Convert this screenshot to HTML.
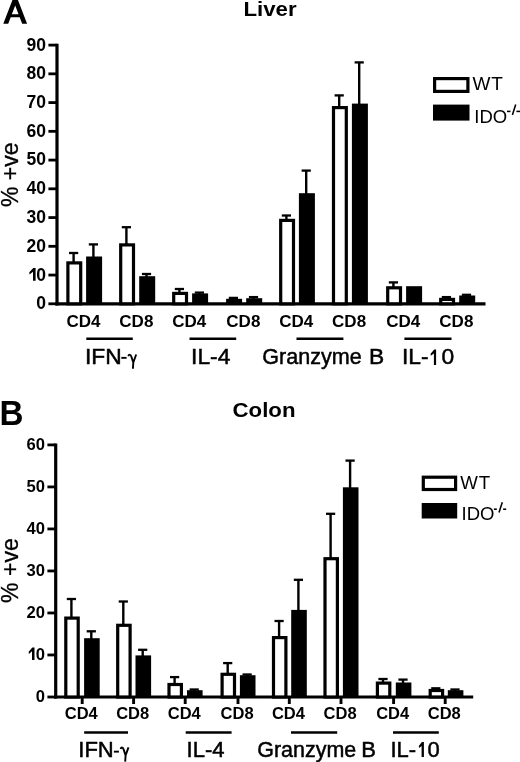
<!DOCTYPE html>
<html><head><meta charset="utf-8"><style>
html,body{margin:0;padding:0;background:#fff;}
body{width:520px;height:762px;overflow:hidden;position:relative;}
svg{position:absolute;left:0;top:0;will-change:transform;}
text{font-family:"Liberation Sans", sans-serif;fill:#000;}
.tl{font-weight:bold;font-size:17.5px;}
.tlb{font-weight:bold;font-size:16.6px;}
.cd{font-weight:bold;font-size:17px;}
.cdb{font-weight:bold;font-size:16.5px;}
.gr{font-size:22.8px;stroke:#000;stroke-width:0.5px;}
.grb{font-size:22px;stroke:#000;stroke-width:0.5px;}
.yl{font-size:23px;stroke:#000;stroke-width:0.3px;}
.pl{font-weight:bold;font-size:36px;}
.plb{font-weight:bold;font-size:35px;}
.tt{font-weight:bold;font-size:20.6px;}
.lgA{font-size:18.5px;}
.lgAw{font-size:19px;letter-spacing:0.6px;}
.lgAs{font-size:15.5px;}
.lgB{font-size:18.5px;}
.lgBw{font-size:18.7px;letter-spacing:0.7px;}
.lgBs{font-size:14px;}
</style></head><body>
<svg width="520" height="762" viewBox="0 0 520 762">
<line x1="57.0" y1="43.70" x2="57.0" y2="305.40" stroke="#000" stroke-width="3.2"/>
<line x1="48.4" y1="303.80" x2="57.0" y2="303.80" stroke="#000" stroke-width="2.8"/>
<text x="46" y="309.20" text-anchor="end" class="tl">0</text>
<line x1="48.4" y1="275.06" x2="57.0" y2="275.06" stroke="#000" stroke-width="2.8"/>
<text x="46" y="281.36" text-anchor="end" class="tl">0</text>
<path fill="#000" d="M33.30,268.00 L35.60,268.00 L35.60,280.70 L33.00,280.70 L33.00,271.81 L29.50,274.60 L29.30,272.19 Z"/>
<line x1="48.4" y1="246.31" x2="57.0" y2="246.31" stroke="#000" stroke-width="2.8"/>
<text x="46" y="251.71" text-anchor="end" class="tl">20</text>
<line x1="48.4" y1="217.57" x2="57.0" y2="217.57" stroke="#000" stroke-width="2.8"/>
<text x="46" y="222.97" text-anchor="end" class="tl">30</text>
<line x1="48.4" y1="188.82" x2="57.0" y2="188.82" stroke="#000" stroke-width="2.8"/>
<text x="46" y="194.22" text-anchor="end" class="tl">40</text>
<line x1="48.4" y1="160.08" x2="57.0" y2="160.08" stroke="#000" stroke-width="2.8"/>
<text x="46" y="165.48" text-anchor="end" class="tl">50</text>
<line x1="48.4" y1="131.33" x2="57.0" y2="131.33" stroke="#000" stroke-width="2.8"/>
<text x="46" y="136.73" text-anchor="end" class="tl">60</text>
<line x1="48.4" y1="102.59" x2="57.0" y2="102.59" stroke="#000" stroke-width="2.8"/>
<text x="46" y="107.99" text-anchor="end" class="tl">70</text>
<line x1="48.4" y1="73.84" x2="57.0" y2="73.84" stroke="#000" stroke-width="2.8"/>
<text x="46" y="79.24" text-anchor="end" class="tl">80</text>
<line x1="48.4" y1="45.10" x2="57.0" y2="45.10" stroke="#000" stroke-width="2.8"/>
<text x="46" y="50.50" text-anchor="end" class="tl">90</text>
<line x1="55.40" y1="303.8" x2="485.5" y2="303.8" stroke="#000" stroke-width="3.2"/>
<line x1="73.60" y1="253.00" x2="73.60" y2="262.30" stroke="#000" stroke-width="2.4"/>
<line x1="69.00" y1="253.00" x2="78.20" y2="253.00" stroke="#000" stroke-width="2.3"/>
<rect x="67.90" y="262.90" width="12.80" height="40.90" fill="#fff" stroke="#000" stroke-width="3.2"/>
<line x1="93.40" y1="244.40" x2="93.40" y2="257.50" stroke="#000" stroke-width="2.4"/>
<line x1="88.80" y1="244.40" x2="98.00" y2="244.40" stroke="#000" stroke-width="2.3"/>
<rect x="86.10" y="256.50" width="16.0" height="47.30" fill="#000"/>
<line x1="126.40" y1="227.20" x2="126.40" y2="244.30" stroke="#000" stroke-width="2.4"/>
<line x1="121.80" y1="227.20" x2="131.00" y2="227.20" stroke="#000" stroke-width="2.3"/>
<rect x="120.70" y="244.90" width="12.80" height="58.90" fill="#fff" stroke="#000" stroke-width="3.2"/>
<line x1="146.50" y1="274.00" x2="146.50" y2="277.20" stroke="#000" stroke-width="2.4"/>
<line x1="141.90" y1="274.00" x2="151.10" y2="274.00" stroke="#000" stroke-width="2.3"/>
<rect x="139.20" y="276.20" width="16.0" height="27.60" fill="#000"/>
<line x1="179.40" y1="289.00" x2="179.40" y2="292.80" stroke="#000" stroke-width="2.4"/>
<line x1="174.80" y1="289.00" x2="184.00" y2="289.00" stroke="#000" stroke-width="2.3"/>
<rect x="173.70" y="293.40" width="12.80" height="10.40" fill="#fff" stroke="#000" stroke-width="3.2"/>
<line x1="199.40" y1="292.60" x2="199.40" y2="294.40" stroke="#000" stroke-width="2.4"/>
<line x1="194.80" y1="292.60" x2="204.00" y2="292.60" stroke="#000" stroke-width="2.3"/>
<rect x="192.10" y="293.40" width="16.0" height="10.40" fill="#000"/>
<line x1="233.40" y1="297.90" x2="233.40" y2="299.80" stroke="#000" stroke-width="2.4"/>
<line x1="228.80" y1="297.90" x2="238.00" y2="297.90" stroke="#000" stroke-width="2.3"/>
<rect x="226.10" y="298.80" width="16.0" height="5.00" fill="#000"/>
<line x1="253.50" y1="297.10" x2="253.50" y2="299.20" stroke="#000" stroke-width="2.4"/>
<line x1="248.90" y1="297.10" x2="258.10" y2="297.10" stroke="#000" stroke-width="2.3"/>
<rect x="246.20" y="298.20" width="16.0" height="5.60" fill="#000"/>
<line x1="286.40" y1="215.50" x2="286.40" y2="219.80" stroke="#000" stroke-width="2.4"/>
<line x1="281.80" y1="215.50" x2="291.00" y2="215.50" stroke="#000" stroke-width="2.3"/>
<rect x="280.70" y="220.40" width="12.80" height="83.40" fill="#fff" stroke="#000" stroke-width="3.2"/>
<line x1="306.20" y1="170.60" x2="306.20" y2="194.20" stroke="#000" stroke-width="2.4"/>
<line x1="301.60" y1="170.60" x2="310.80" y2="170.60" stroke="#000" stroke-width="2.3"/>
<rect x="298.90" y="193.20" width="16.0" height="110.60" fill="#000"/>
<line x1="339.20" y1="95.40" x2="339.20" y2="107.00" stroke="#000" stroke-width="2.4"/>
<line x1="334.60" y1="95.40" x2="343.80" y2="95.40" stroke="#000" stroke-width="2.3"/>
<rect x="333.50" y="107.60" width="12.80" height="196.20" fill="#fff" stroke="#000" stroke-width="3.2"/>
<line x1="359.20" y1="62.40" x2="359.20" y2="104.60" stroke="#000" stroke-width="2.4"/>
<line x1="354.60" y1="62.40" x2="363.80" y2="62.40" stroke="#000" stroke-width="2.3"/>
<rect x="351.90" y="103.60" width="16.0" height="200.20" fill="#000"/>
<line x1="393.40" y1="282.40" x2="393.40" y2="287.20" stroke="#000" stroke-width="2.4"/>
<line x1="388.80" y1="282.40" x2="398.00" y2="282.40" stroke="#000" stroke-width="2.3"/>
<rect x="387.70" y="287.80" width="12.80" height="16.00" fill="#fff" stroke="#000" stroke-width="3.2"/>
<rect x="406.10" y="286.20" width="16.0" height="17.60" fill="#000"/>
<line x1="446.40" y1="297.10" x2="446.40" y2="298.80" stroke="#000" stroke-width="2.4"/>
<line x1="441.80" y1="297.10" x2="451.00" y2="297.10" stroke="#000" stroke-width="2.3"/>
<rect x="440.70" y="299.40" width="12.80" height="4.40" fill="#fff" stroke="#000" stroke-width="3.2"/>
<line x1="466.50" y1="294.80" x2="466.50" y2="296.50" stroke="#000" stroke-width="2.4"/>
<line x1="461.90" y1="294.80" x2="471.10" y2="294.80" stroke="#000" stroke-width="2.3"/>
<rect x="459.20" y="295.50" width="16.0" height="8.30" fill="#000"/>
<text x="83.39999999999999" y="326.5" text-anchor="middle" class="cd">CD4</text>
<text x="136.34999999999997" y="326.5" text-anchor="middle" class="cd">CD8</text>
<text x="189.29999999999998" y="326.5" text-anchor="middle" class="cd">CD4</text>
<text x="243.34999999999997" y="326.5" text-anchor="middle" class="cd">CD8</text>
<text x="296.2" y="326.5" text-anchor="middle" class="cd">CD4</text>
<text x="349.09999999999997" y="326.5" text-anchor="middle" class="cd">CD8</text>
<text x="403.3" y="326.5" text-anchor="middle" class="cd">CD4</text>
<text x="456.34999999999997" y="326.5" text-anchor="middle" class="cd">CD8</text>
<line x1="86.3" y1="338.7" x2="132.8" y2="338.7" stroke="#000" stroke-width="2.4"/>
<text x="85.0" y="364.3" class="gr">IFN</text>
<rect x="121.3" y="356.9" width="5.30" height="1.90" fill="#000"/>
<path transform="translate(128.0,354.3)" d="M0.3,1.9 C0.8,-0.1 2.5,-0.3 3.3,2.2 L5.3,8.2 M8.2,0.2 L5.3,8.2 L4.9,14.4" fill="none" stroke="#000" stroke-width="1.9" stroke-linejoin="round"/>
<line x1="189.5" y1="338.7" x2="236.2" y2="338.7" stroke="#000" stroke-width="2.4"/>
<text x="210.7" y="364.3" text-anchor="middle" class="gr">IL-4</text>
<line x1="296.5" y1="338.7" x2="343.4" y2="338.7" stroke="#000" stroke-width="2.4"/>
<text transform="translate(262.3,364.3) scale(0.945,1)" class="gr">Granzyme</text>
<text x="368.9" y="364.3" class="gr">B</text>
<line x1="404.4" y1="338.7" x2="451.5" y2="338.7" stroke="#000" stroke-width="2.4"/>
<text x="402.0" y="364.3" class="gr">IL-</text>
<text x="441.5" y="364.3" class="gr">0</text>
<path fill="#000" d="M434.20,349.60 L436.10,349.60 L436.10,364.90 L433.90,364.90 L433.90,353.58 L430.80,355.72 L430.60,353.73 Z"/>
<text transform="translate(17.6,174.7) rotate(-90)" text-anchor="middle" class="yl">% +ve</text>
<path fill-rule="evenodd" fill="#000" d="M3.3,23.7 L13.03,-1.5 L17.37,-1.5 L27.1,23.7 L22.2,23.7 L19.69,17.2 L10.71,17.2 L8.2,23.7 Z M11.83,14.3 L15.2,5.57 L18.57,14.3 Z"/>
<text transform="translate(243.5,15.8) scale(1.08,1)" class="tt">Liver</text>
<rect x="434.6" y="78.6" width="33.3" height="12.8" fill="#fff" stroke="#000" stroke-width="3.2"/>
<rect x="433" y="104.6" width="36.5" height="16" fill="#000"/>
<text x="472.6" y="90.4" class="lgAw">WT</text>
<text x="474.3" y="122.9" class="lgA">IDO</text>
<line x1="507.0" y1="111.4" x2="510.5" y2="111.4" stroke="#000" stroke-width="1.55"/>
<line x1="512.4" y1="114.9" x2="515.7" y2="104.4" stroke="#000" stroke-width="1.55"/>
<line x1="516.4" y1="111.4" x2="521" y2="111.4" stroke="#000" stroke-width="1.55"/>
<line x1="55.7" y1="443.50" x2="55.7" y2="698.60" stroke="#000" stroke-width="3.2"/>
<line x1="47.4" y1="697.00" x2="55.7" y2="697.00" stroke="#000" stroke-width="2.8"/>
<text x="45.0" y="702.10" text-anchor="end" class="tlb">0</text>
<line x1="47.4" y1="654.98" x2="55.7" y2="654.98" stroke="#000" stroke-width="2.8"/>
<text x="45.0" y="660.08" text-anchor="end" class="tlb">0</text>
<path fill="#000" d="M32.30,647.60 L34.50,647.60 L34.50,659.90 L32.00,659.90 L32.00,651.29 L28.90,654.00 L28.70,651.66 Z"/>
<line x1="47.4" y1="612.97" x2="55.7" y2="612.97" stroke="#000" stroke-width="2.8"/>
<text x="45.0" y="618.07" text-anchor="end" class="tlb">20</text>
<line x1="47.4" y1="570.95" x2="55.7" y2="570.95" stroke="#000" stroke-width="2.8"/>
<text x="45.0" y="576.05" text-anchor="end" class="tlb">30</text>
<line x1="47.4" y1="528.93" x2="55.7" y2="528.93" stroke="#000" stroke-width="2.8"/>
<text x="45.0" y="534.03" text-anchor="end" class="tlb">40</text>
<line x1="47.4" y1="486.92" x2="55.7" y2="486.92" stroke="#000" stroke-width="2.8"/>
<text x="45.0" y="492.02" text-anchor="end" class="tlb">50</text>
<line x1="47.4" y1="444.90" x2="55.7" y2="444.90" stroke="#000" stroke-width="2.8"/>
<text x="45.0" y="450.00" text-anchor="end" class="tlb">60</text>
<line x1="54.10" y1="697.0" x2="473.2" y2="697.0" stroke="#000" stroke-width="3.2"/>
<line x1="71.40" y1="599.00" x2="71.40" y2="617.50" stroke="#000" stroke-width="2.4"/>
<line x1="66.80" y1="599.00" x2="76.00" y2="599.00" stroke="#000" stroke-width="2.3"/>
<rect x="65.80" y="618.10" width="12.40" height="78.90" fill="#fff" stroke="#000" stroke-width="3.2"/>
<line x1="91.30" y1="631.30" x2="91.30" y2="639.20" stroke="#000" stroke-width="2.4"/>
<line x1="86.70" y1="631.30" x2="95.90" y2="631.30" stroke="#000" stroke-width="2.3"/>
<rect x="84.10" y="638.20" width="15.6" height="58.80" fill="#000"/>
<line x1="123.30" y1="601.50" x2="123.30" y2="624.70" stroke="#000" stroke-width="2.4"/>
<line x1="118.70" y1="601.50" x2="127.90" y2="601.50" stroke="#000" stroke-width="2.3"/>
<rect x="117.70" y="625.30" width="12.40" height="71.70" fill="#fff" stroke="#000" stroke-width="3.2"/>
<line x1="142.70" y1="649.80" x2="142.70" y2="656.40" stroke="#000" stroke-width="2.4"/>
<line x1="138.10" y1="649.80" x2="147.30" y2="649.80" stroke="#000" stroke-width="2.3"/>
<rect x="135.50" y="655.40" width="15.6" height="41.60" fill="#000"/>
<line x1="174.60" y1="677.10" x2="174.60" y2="683.90" stroke="#000" stroke-width="2.4"/>
<line x1="170.00" y1="677.10" x2="179.20" y2="677.10" stroke="#000" stroke-width="2.3"/>
<rect x="169.00" y="684.50" width="12.40" height="12.50" fill="#fff" stroke="#000" stroke-width="3.2"/>
<line x1="194.20" y1="689.50" x2="194.20" y2="691.20" stroke="#000" stroke-width="2.4"/>
<line x1="189.60" y1="689.50" x2="198.80" y2="689.50" stroke="#000" stroke-width="2.3"/>
<rect x="187.00" y="690.20" width="15.6" height="6.80" fill="#000"/>
<line x1="227.70" y1="663.10" x2="227.70" y2="673.70" stroke="#000" stroke-width="2.4"/>
<line x1="223.10" y1="663.10" x2="232.30" y2="663.10" stroke="#000" stroke-width="2.3"/>
<rect x="222.10" y="674.30" width="12.40" height="22.70" fill="#fff" stroke="#000" stroke-width="3.2"/>
<line x1="247.10" y1="674.50" x2="247.10" y2="676.20" stroke="#000" stroke-width="2.4"/>
<line x1="242.50" y1="674.50" x2="251.70" y2="674.50" stroke="#000" stroke-width="2.3"/>
<rect x="239.90" y="675.20" width="15.6" height="21.80" fill="#000"/>
<line x1="279.10" y1="621.00" x2="279.10" y2="637.00" stroke="#000" stroke-width="2.4"/>
<line x1="274.50" y1="621.00" x2="283.70" y2="621.00" stroke="#000" stroke-width="2.3"/>
<rect x="273.50" y="637.60" width="12.40" height="59.40" fill="#fff" stroke="#000" stroke-width="3.2"/>
<line x1="298.40" y1="579.80" x2="298.40" y2="610.90" stroke="#000" stroke-width="2.4"/>
<line x1="293.80" y1="579.80" x2="303.00" y2="579.80" stroke="#000" stroke-width="2.3"/>
<rect x="291.20" y="609.90" width="15.6" height="87.10" fill="#000"/>
<line x1="330.60" y1="513.80" x2="330.60" y2="558.10" stroke="#000" stroke-width="2.4"/>
<line x1="326.00" y1="513.80" x2="335.20" y2="513.80" stroke="#000" stroke-width="2.3"/>
<rect x="325.00" y="558.70" width="12.40" height="138.30" fill="#fff" stroke="#000" stroke-width="3.2"/>
<line x1="350.10" y1="460.60" x2="350.10" y2="488.30" stroke="#000" stroke-width="2.4"/>
<line x1="345.50" y1="460.60" x2="354.70" y2="460.60" stroke="#000" stroke-width="2.3"/>
<rect x="342.90" y="487.30" width="15.6" height="209.70" fill="#000"/>
<line x1="383.00" y1="679.00" x2="383.00" y2="682.50" stroke="#000" stroke-width="2.4"/>
<line x1="378.40" y1="679.00" x2="387.60" y2="679.00" stroke="#000" stroke-width="2.3"/>
<rect x="377.40" y="683.10" width="12.40" height="13.90" fill="#fff" stroke="#000" stroke-width="3.2"/>
<line x1="403.00" y1="679.60" x2="403.00" y2="683.50" stroke="#000" stroke-width="2.4"/>
<line x1="398.40" y1="679.60" x2="407.60" y2="679.60" stroke="#000" stroke-width="2.3"/>
<rect x="395.80" y="682.50" width="15.6" height="14.50" fill="#000"/>
<line x1="435.80" y1="688.30" x2="435.80" y2="689.90" stroke="#000" stroke-width="2.4"/>
<line x1="431.20" y1="688.30" x2="440.40" y2="688.30" stroke="#000" stroke-width="2.3"/>
<rect x="430.20" y="690.50" width="12.40" height="6.50" fill="#fff" stroke="#000" stroke-width="3.2"/>
<line x1="455.00" y1="689.50" x2="455.00" y2="691.20" stroke="#000" stroke-width="2.4"/>
<line x1="450.40" y1="689.50" x2="459.60" y2="689.50" stroke="#000" stroke-width="2.3"/>
<rect x="447.80" y="690.20" width="15.6" height="6.80" fill="#000"/>
<line x1="82.2" y1="697.0" x2="82.2" y2="704.0" stroke="#000" stroke-width="2.9"/>
<line x1="133.6" y1="697.0" x2="133.6" y2="704.0" stroke="#000" stroke-width="2.9"/>
<line x1="185.2" y1="697.0" x2="185.2" y2="704.0" stroke="#000" stroke-width="2.9"/>
<line x1="238.0" y1="697.0" x2="238.0" y2="704.0" stroke="#000" stroke-width="2.9"/>
<line x1="289.3" y1="697.0" x2="289.3" y2="704.0" stroke="#000" stroke-width="2.9"/>
<line x1="341.0" y1="697.0" x2="341.0" y2="704.0" stroke="#000" stroke-width="2.9"/>
<line x1="393.6" y1="697.0" x2="393.6" y2="704.0" stroke="#000" stroke-width="2.9"/>
<line x1="445.2" y1="697.0" x2="445.2" y2="704.0" stroke="#000" stroke-width="2.9"/>
<text x="81.3" y="719" text-anchor="middle" class="cdb">CD4</text>
<text x="132.7" y="719" text-anchor="middle" class="cdb">CD8</text>
<text x="184.29999999999998" y="719" text-anchor="middle" class="cdb">CD4</text>
<text x="237.1" y="719" text-anchor="middle" class="cdb">CD8</text>
<text x="288.40000000000003" y="719" text-anchor="middle" class="cdb">CD4</text>
<text x="340.1" y="719" text-anchor="middle" class="cdb">CD8</text>
<text x="392.70000000000005" y="719" text-anchor="middle" class="cdb">CD4</text>
<text x="444.3" y="719" text-anchor="middle" class="cdb">CD8</text>
<line x1="84.2" y1="732.5" x2="128" y2="732.5" stroke="#000" stroke-width="2.4"/>
<text x="78.3" y="757" class="grb">IFN</text>
<rect x="113.9" y="750.7" width="5.00" height="1.90" fill="#000"/>
<path transform="translate(120.3,747.2)" d="M0.3,1.9 C0.8,-0.1 2.5,-0.3 3.3,2.2 L5.3,8.2 M8.2,0.2 L5.3,8.2 L4.9,14.4" fill="none" stroke="#000" stroke-width="1.9" stroke-linejoin="round"/>
<line x1="185.7" y1="732.5" x2="231.6" y2="732.5" stroke="#000" stroke-width="2.4"/>
<text x="205.5" y="757" text-anchor="middle" class="grb">IL-4</text>
<line x1="291" y1="732.5" x2="337.2" y2="732.5" stroke="#000" stroke-width="2.4"/>
<text transform="translate(257.3,757) scale(0.975,1)" class="grb">Granzyme</text>
<text x="361.3" y="757" class="grb">B</text>
<line x1="393" y1="732.5" x2="438.8" y2="732.5" stroke="#000" stroke-width="2.4"/>
<text x="390.5" y="757" class="grb">IL-</text>
<text x="427.6" y="757" class="grb">0</text>
<path fill="#000" d="M421.90,742.00 L423.90,742.00 L423.90,757.00 L421.60,757.00 L421.60,745.90 L419.00,748.00 L418.80,746.05 Z"/>
<text transform="translate(17.6,570.6) rotate(-90)" text-anchor="middle" class="yl">% +ve</text>
<text transform="translate(-0.6,425) scale(0.95,1)" class="plb">B</text>
<text transform="translate(232.5,416.5) scale(1.08,1)" class="tt">Colon</text>
<rect x="423.3" y="477.20000000000005" width="32.3" height="12.3" fill="#fff" stroke="#000" stroke-width="3.2"/>
<rect x="421.7" y="503" width="35.5" height="15.5" fill="#000"/>
<text x="460.3" y="489" class="lgBw">WT</text>
<text x="461.5" y="520.3" class="lgB">IDO</text>
<line x1="493.9" y1="509.2" x2="496.8" y2="509.2" stroke="#000" stroke-width="1.55"/>
<line x1="499.0" y1="512.5" x2="502.3" y2="502.3" stroke="#000" stroke-width="1.55"/>
<line x1="503.1" y1="509.2" x2="506.2" y2="509.2" stroke="#000" stroke-width="1.55"/>
</svg>
</body></html>
